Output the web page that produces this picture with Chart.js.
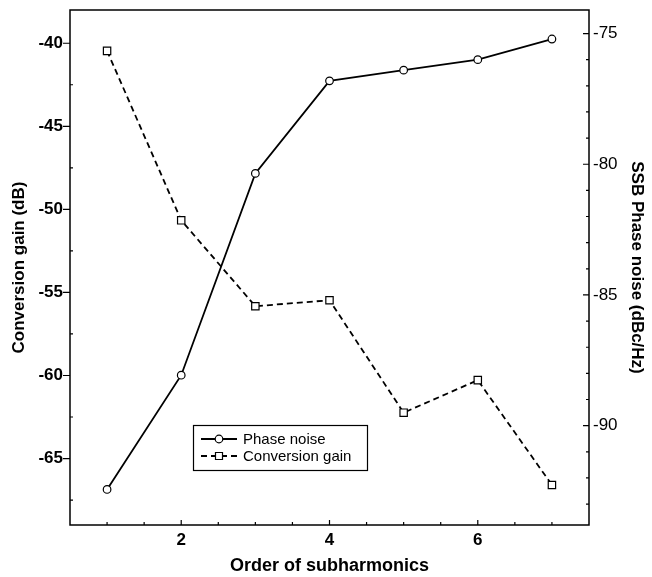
<!DOCTYPE html>
<html lang="en">
  <head>
    <meta charset="UTF-8" />
    <title>Phase noise and conversion gain vs order of subharmonics</title>
    <script src="https://cdn.jsdelivr.net/npm/chart.js"></script>
    <style>
      body { margin: 0; background: #fff; }
    </style>
  </head>
  <body>
    <canvas id="grafico" width="652" height="577"></canvas>
    <script>
      // values
      const orders = [1, 2, 3, 4, 5, 6, 7]
      const phaseNoise = [-92.44, -88.07, -80.35, -76.81, -76.4, -76.0, -75.21] // dBc/Hz, right axis
      const convGain = [-40.46, -50.66, -55.83, -55.47, -62.24, -60.28, -66.59] // dB, left axis

      const xTicks = [2, 4, 6]
      const leftTicks = [-65, -60, -55, -50, -45, -40]
      const rightTicks = [-90, -85, -80, -75]

      const ink = "#000"
      const fam = "'Liberation Sans', Arial, sans-serif"

      const pts = (ys) => orders.map((x, i) => ({ x: x, y: ys[i] }))
      const setTicks = (list) => (scale) => {
        scale.ticks = list.map((v) => ({ value: v }))
      }
      const fitY = (w) => (s) => {
        s.width = w
        s.paddingTop = 0
        s.paddingBottom = 0
      }

      // frame, tick marks and the boxed legend
      const frameTicks = {
        id: "frameTicks",
        afterDraw(chart) {
          const ctx = chart.ctx
          const { left, right, top, bottom } = chart.chartArea
          const { x, yL, yR } = chart.scales
          ctx.save()
          ctx.strokeStyle = ink
          ctx.lineWidth = 1.5
          ctx.strokeRect(left, top, right - left, bottom - top)
          ctx.lineWidth = 1.2
          ctx.beginPath()
          for (let v = -67.5; v <= -38; v += 2.5) {
            const py = yL.getPixelForValue(v)
            if (v % 5 === 0) { ctx.moveTo(left - 7, py); ctx.lineTo(left, py) }
            else { ctx.moveTo(left, py); ctx.lineTo(left + 3, py) }
          }
          for (let v = -93; v <= -75; v += 1) {
            const py = yR.getPixelForValue(v)
            const len = v % 5 === 0 ? 6 : 3
            ctx.moveTo(right - len, py); ctx.lineTo(right, py)
          }
          for (let v = 1; v <= 7; v += 0.5) {
            const px = x.getPixelForValue(v)
            const len = v % 2 === 0 ? 5 : 3
            ctx.moveTo(px, bottom); ctx.lineTo(px, bottom - len)
          }
          ctx.stroke()

          // legend
          const lx = 193, ly = 425
          ctx.lineWidth = 1.2
          ctx.strokeRect(lx + 0.5, ly + 0.5, 174, 45)
          ctx.font = "15px " + fam
          ctx.fillStyle = ink
          ctx.textBaseline = "middle"
          chart.data.datasets.forEach((ds, i) => {
            const yy = ly + 14 + i * 17
            ctx.lineWidth = ds.borderWidth
            ctx.setLineDash(ds.borderDash || [])
            ctx.beginPath()
            ctx.moveTo(lx + 8, yy)
            ctx.lineTo(lx + 44, yy)
            ctx.stroke()
            ctx.setLineDash([])
            ctx.lineWidth = 1.2
            ctx.fillStyle = "#fff"
            ctx.beginPath()
            if (ds.pointStyle === "rect") ctx.rect(lx + 22.5, yy - 3.5, 7, 7)
            else ctx.arc(lx + 26, yy, 3.8, 0, Math.PI * 2)
            ctx.fill()
            ctx.stroke()
            ctx.fillStyle = ink
            ctx.fillText(ds.label, lx + 50, yy + 1)
          })
          ctx.restore()
        },
      }

      const ctx = document.getElementById("grafico")
      const grafico = new Chart(ctx, {
        type: "line",
        data: {
          datasets: [
            {
              label: "Phase noise",
              data: pts(phaseNoise),
              yAxisID: "yR",
              borderColor: ink,
              borderWidth: 1.8,
              pointStyle: "circle",
              pointRadius: 3.8,
              pointBorderWidth: 1.2,
              pointBackgroundColor: "#fff",
              pointBorderColor: ink,
              tension: 0,
            },
            {
              label: "Conversion gain",
              data: pts(convGain),
              yAxisID: "yL",
              borderColor: ink,
              borderWidth: 1.8,
              borderDash: [6, 4],
              pointStyle: "rect",
              pointRadius: 5.2,
              pointBorderWidth: 1.2,
              pointBackgroundColor: "#fff",
              pointBorderColor: ink,
              tension: 0,
            },
          ],
        },
        options: {
          responsive: false,
          devicePixelRatio: 1,
          animation: false,
          layout: { padding: { top: 10, right: 0, bottom: 0, left: 0 } },
          plugins: { legend: { display: false }, tooltip: { enabled: false } },
          scales: {
            x: {
              type: "linear",
              position: "bottom",
              min: 0.5,
              max: 7.5,
              afterBuildTicks: setTicks(xTicks),
              afterFit: (s) => { s.height = 52; s.paddingLeft = 0; s.paddingRight = 0 },
              grid: { display: false, drawTicks: false },
              border: { display: false },
              ticks: { color: ink, padding: 5, font: { family: fam, size: 17, weight: "bold" } },
              title: {
                display: true,
                text: "Order of subharmonics",
                color: ink,
                padding: { top: 0, bottom: 0 },
                font: { family: fam, size: 18, weight: "bold", lineHeight: 1.2 },
              },
            },
            yL: {
              type: "linear",
              position: "left",
              min: -69,
              max: -38,
              afterBuildTicks: setTicks(leftTicks),
              afterFit: fitY(70),
              grid: { display: false, drawTicks: false },
              border: { display: false },
              ticks: { color: ink, padding: 7, font: { family: fam, size: 17, weight: "bold" } },
              title: {
                display: true,
                text: "Conversion gain (dB)",
                color: ink,
                padding: { top: 9, bottom: 0 },
                font: { family: fam, size: 17, weight: "bold", lineHeight: 1.2 },
              },
            },
            yR: {
              type: "linear",
              position: "right",
              min: -93.8,
              max: -74.1,
              afterBuildTicks: setTicks(rightTicks),
              afterFit: fitY(63),
              grid: { display: false, drawTicks: false },
              border: { display: false },
              ticks: { color: ink, padding: 4, font: { family: fam, size: 17 } },
              title: {
                display: true,
                text: "SSB Phase noise (dBc/Hz)",
                color: ink,
                padding: { top: 5, bottom: 0 },
                font: { family: fam, size: 17, weight: "bold", lineHeight: 1.2 },
              },
            },
          },
        },
        plugins: [frameTicks],
      })
    </script>
  </body>
</html>
